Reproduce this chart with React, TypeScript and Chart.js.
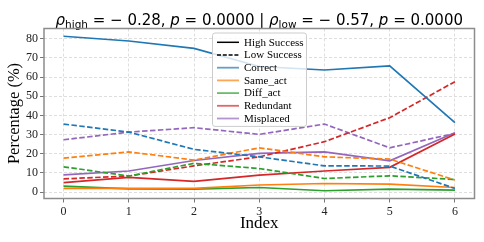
import React, { useEffect, useRef } from 'react';
import { Chart, registerables } from 'chart.js';
Chart.register(...registerables);

const indices = [0, 1, 2, 3, 4, 5, 6];
const xTicks = [0, 1, 2, 3, 4, 5, 6];
const yTicks = [0, 10, 20, 30, 40, 50, 60, 70, 80];
const categories = ['Correct', 'Same_act', 'Diff_act', 'Redundant', 'Misplaced'];
const groupLabels = ['High Success', 'Low Success'];
const colors = ['#1f77b4', '#ff7f0e', '#2ca02c', '#d62728', '#9467bd'];

const highCorrect = [81.3, 78.8, 75.0, 65.5, 63.7, 65.8, 36.2];
const highSameAct = [1.9, 2.0, 2.0, 3.7, 4.5, 4.2, 2.4];
const highDiffAct = [3.1, 1.7, 1.6, 2.4, 0.7, 1.6, 1.0];
const highRedundant = [5.0, 7.7, 5.6, 8.9, 11.0, 12.9, 30.3];
const highMisplaced = [9.0, 11.0, 16.5, 20.2, 21.0, 16.3, 31.0];

const lowCorrect = [35.5, 31.3, 22.3, 18.4, 13.7, 13.6, 1.9];
const lowSameAct = [17.7, 21.0, 16.7, 23.1, 18.4, 17.2, 6.3];
const lowDiffAct = [13.2, 8.4, 15.0, 12.3, 7.1, 8.5, 6.6];
const lowRedundant = [6.9, 8.4, 13.7, 18.4, 26.3, 38.8, 57.6];
const lowMisplaced = [27.3, 31.3, 33.6, 30.1, 35.5, 23.1, 30.6];

const rhoHigh = -0.28;
const pHigh = 0.0;
const rhoLow = -0.57;
const pLow = 0.0;

const highSeries = [highCorrect, highSameAct, highDiffAct, highRedundant, highMisplaced];
const lowSeries = [lowCorrect, lowSameAct, lowDiffAct, lowRedundant, lowMisplaced];

const SERIF = '"Liberation Serif", "Times New Roman", serif';
const SANS = '"DejaVu Sans", sans-serif';

function fmtRho(v: number) {
  return (v < 0 ? '\u2212 ' : '') + Math.abs(v).toFixed(2);
}

const titlePlugin = {
  id: 'mathTitle',
  afterDraw(chart: any) {
    const ctx = chart.ctx as CanvasRenderingContext2D;
    const ca = chart.chartArea;
    const fs = 15;
    const pieces = [
      { t: '\u03c1', it: true },
      { t: 'high', sub: true },
      { t: ' = ' + fmtRho(rhoHigh) + ', ' },
      { t: 'p', it: true },
      { t: ' = ' + pHigh.toFixed(4) + ' | ' },
      { t: '\u03c1', it: true },
      { t: 'low', sub: true },
      { t: ' = ' + fmtRho(rhoLow) + ', ' },
      { t: 'p', it: true },
      { t: ' = ' + pLow.toFixed(4) },
    ] as { t: string; it?: boolean; sub?: boolean }[];
    const fontFor = (p: any) => `${p.it ? 'italic ' : ''}${p.sub ? fs * 0.7 : fs}px ${SANS}`;
    ctx.save();
    let total = 0;
    const widths = pieces.map((p) => {
      ctx.font = fontFor(p);
      const w = ctx.measureText(p.t).width;
      total += w;
      return w;
    });
    let x = (ca.left + ca.right) / 2 - total / 2;
    const baseY = ca.top - 4;
    ctx.fillStyle = '#000';
    ctx.textBaseline = 'alphabetic';
    ctx.textAlign = 'left';
    pieces.forEach((p, i) => {
      ctx.font = fontFor(p);
      ctx.fillText(p.t, x, p.sub ? baseY + fs * 0.2 : baseY);
      x += widths[i];
    });
    ctx.restore();
  },
};

const framePlugin = {
  id: 'frameLegend',
  afterDraw(chart: any) {
    const ctx = chart.ctx as CanvasRenderingContext2D;
    const ca = chart.chartArea;
    ctx.save();
    ctx.strokeStyle = '#8c8c8c';
    ctx.lineWidth = 1.5;
    ctx.setLineDash([]);
    ctx.strokeRect(ca.left, ca.top, ca.right - ca.left, ca.bottom - ca.top);

    // legend
    const lx = ca.left + 168.5;
    const ly = ca.top + 4.5;
    const lw = 94;
    const rowH = 12.7;
    const entries = [
      ...groupLabels.map((l, i) => ({ label: l, color: '#000', dash: i === 1, alpha: 1, w: 1.5 })),
      ...categories.map((c, i) => ({ label: c, color: colors[i], dash: false, alpha: 0.7, w: 1.8 })),
    ];
    const lh = entries.length * rowH + 4.5;
    const r = 2.5;
    ctx.beginPath();
    ctx.moveTo(lx + r, ly);
    ctx.lineTo(lx + lw - r, ly);
    ctx.arcTo(lx + lw, ly, lx + lw, ly + r, r);
    ctx.lineTo(lx + lw, ly + lh - r);
    ctx.arcTo(lx + lw, ly + lh, lx + lw - r, ly + lh, r);
    ctx.lineTo(lx + r, ly + lh);
    ctx.arcTo(lx, ly + lh, lx, ly + lh - r, r);
    ctx.lineTo(lx, ly + r);
    ctx.arcTo(lx, ly, lx + r, ly, r);
    ctx.closePath();
    ctx.fillStyle = 'rgba(255,255,255,0.8)';
    ctx.fill();
    ctx.strokeStyle = '#cccccc';
    ctx.lineWidth = 1;
    ctx.stroke();

    ctx.font = `11px ${SERIF}`;
    ctx.textBaseline = 'middle';
    ctx.textAlign = 'left';
    entries.forEach((e, i) => {
      const cy = ly + 9.3 + i * rowH;
      ctx.globalAlpha = e.alpha;
      ctx.strokeStyle = e.color;
      ctx.lineWidth = e.w;
      ctx.setLineDash(e.dash ? [4, 1.8] : []);
      ctx.beginPath();
      ctx.moveTo(lx + 4.5, cy);
      ctx.lineTo(lx + 26.5, cy);
      ctx.stroke();
      ctx.globalAlpha = 1;
      ctx.setLineDash([]);
      ctx.fillStyle = '#000';
      ctx.fillText(e.label, lx + 31.5, cy + 0.5);
    });
    ctx.restore();
  },
};

export default function App() {
  const ref = useRef<HTMLCanvasElement | null>(null);
  useEffect(() => {
    if (!ref.current) return;
    const all = [...highSeries.flat(), ...lowSeries.flat()];
    const dmin = Math.min(...all);
    const dmax = Math.max(...all);
    const yPad = (dmax - dmin) * 0.05;
    const xPad = (indices[indices.length - 1] - indices[0]) * 0.05;

    const datasets: any[] = [];
    categories.forEach((c, ci) => {
      datasets.push({
        label: c + ' (high)',
        data: indices.map((x, i) => ({ x, y: highSeries[ci][i] })),
        borderColor: colors[ci],
        borderWidth: 1.7,
        pointRadius: 0,
        fill: false,
        tension: 0,
      });
      datasets.push({
        label: c + ' (low)',
        data: indices.map((x, i) => ({ x, y: lowSeries[ci][i] })),
        borderColor: colors[ci],
        borderWidth: 1.7,
        borderDash: [5.5, 2.4],
        pointRadius: 0,
        fill: false,
        tension: 0,
      });
    });

    const chart = new Chart(ref.current, {
      type: 'line',
      data: { datasets },
      plugins: [titlePlugin, framePlugin],
      options: {
        animation: false,
        responsive: false,
        devicePixelRatio: 1,
        layout: { padding: { top: 28.5, right: 9.5, left: 0, bottom: 0 } },
        plugins: { legend: { display: false }, title: { display: false }, tooltip: { enabled: false } },
        scales: {
          x: {
            type: 'linear',
            min: indices[0] - xPad,
            max: indices[indices.length - 1] + xPad,
            afterBuildTicks: (s: any) => {
              s.ticks = xTicks.map((v) => ({ value: v }));
            },
            afterFit: (s: any) => {
              s.height = 43.5;
            },
            ticks: { font: { family: SERIF, size: 12 }, color: '#222', padding: 2, maxRotation: 0 },
            grid: { color: '#d6d6d6', lineWidth: 0.8, tickLength: 4, tickColor: '#777', tickWidth: 1, tickBorderDash: [] },
            border: { display: false, dash: [3, 2] },
            title: { display: true, text: 'Index', font: { family: SERIF, size: 17 }, color: '#000', padding: { top: 0, bottom: 8.3 } },
          },
          y: {
            type: 'linear',
            min: dmin - yPad,
            max: dmax + yPad,
            afterBuildTicks: (s: any) => {
              s.ticks = yTicks.map((v) => ({ value: v }));
            },
            afterFit: (s: any) => {
              s.width = 44;
            },
            ticks: { font: { family: SERIF, size: 12 }, color: '#222', padding: 2 },
            grid: { color: '#d6d6d6', lineWidth: 0.8, tickLength: 4, tickColor: '#777', tickWidth: 1, tickBorderDash: [] },
            border: { display: false, dash: [3, 2] },
            title: { display: true, text: 'Percentage (%)', font: { family: SERIF, size: 16.5 }, color: '#000', padding: { top: 5, bottom: 0 } },
          },
        },
      },
    });
    return () => chart.destroy();
  }, []);
  return (
    <div style={{ position: 'absolute', left: 0, top: 0, width: 484, height: 242 }}>
      <canvas ref={ref} width={484} height={242} style={{ width: 484, height: 242 }} />
    </div>
  );
}
